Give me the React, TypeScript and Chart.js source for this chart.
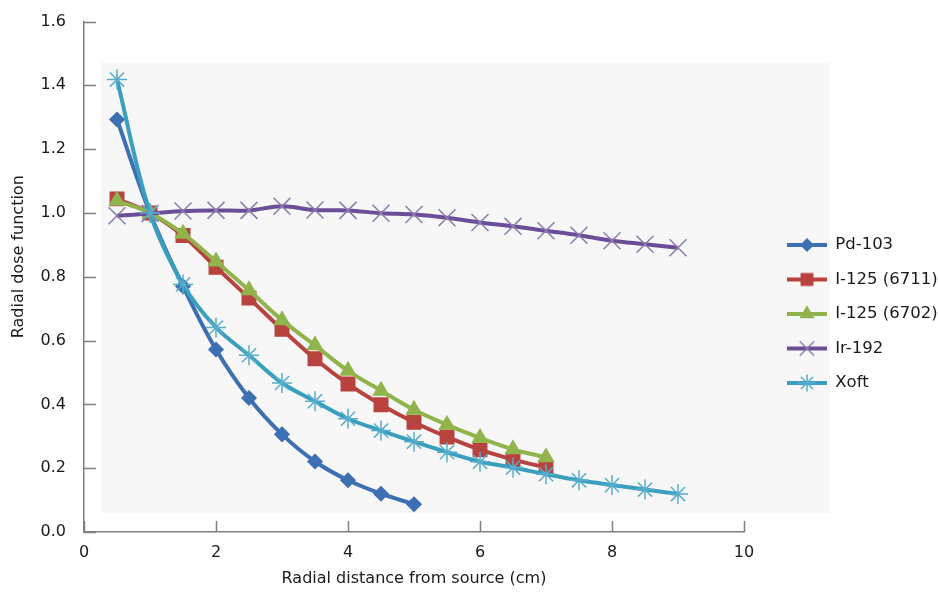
import { useEffect, useRef } from 'react';
import { Chart, registerables } from 'chart.js';
import { drawPoint } from 'chart.js/helpers';

Chart.register(...registerables);

// ---------- data ----------
const radialDistance = [0.5, 1, 1.5, 2, 2.5, 3, 3.5, 4, 4.5, 5, 5.5, 6, 6.5, 7, 7.5, 8, 8.5, 9];
const pd103 = [1.293, 1.0, 0.77, 0.572, 0.42, 0.306, 0.221, 0.162, 0.12, 0.087];
const i125_6711 = [1.044, 1.0, 0.929, 0.83, 0.733, 0.635, 0.543, 0.464, 0.399, 0.344, 0.298, 0.258, 0.227, 0.202];
const i125_6702 = [1.038, 1.0, 0.935, 0.848, 0.758, 0.664, 0.585, 0.505, 0.443, 0.383, 0.336, 0.295, 0.259, 0.234];
const ir192 = [0.991, 0.998, 1.006, 1.008, 1.008, 1.021, 1.009, 1.008, 0.999, 0.995, 0.985, 0.97, 0.958, 0.944, 0.93, 0.913, 0.902, 0.891];
const xoft = [1.418, 1.0, 0.776, 0.641, 0.554, 0.467, 0.41, 0.355, 0.318, 0.283, 0.25, 0.22, 0.202, 0.181, 0.162, 0.147, 0.133, 0.119];

const seriesNames = ['Pd-103', 'I-125 (6711)', 'I-125 (6702)', 'Ir-192', 'Xoft'];
const seriesValues = [pd103, i125_6711, i125_6702, ir192, xoft];
const xTickValues = [0, 2, 4, 6, 8, 10];
const yTickValues = [0, 0.2, 0.4, 0.6, 0.8, 1.0, 1.2, 1.4, 1.6];
const xTitle = 'Radial distance from source (cm)';
const yTitle = 'Radial dose function';

// ---------- styles ----------
const lineColors = ['#3d6fb3', '#b8423e', '#90b44b', '#6c4e98', '#3a9fbf'];
const markerBorders = ['#3d6fb3', '#b8423e', '#90b44b', '#8c7cae', '#56aecb'];
const markerStyles = ['rectRot', 'rect', 'triangle', 'crossRot', 'star'];
const markerRadii = [7, 9.5, 8.5, 12, 10];
const FONT = "'DejaVu Sans', Verdana, sans-serif";
const TEXT = '#1a1a1a';
const AXIS = '#7f7f7f';

function makeIcon(i: number): HTMLCanvasElement {
  const c = document.createElement('canvas');
  c.width = 40;
  c.height = 24;
  const ctx = c.getContext('2d')!;
  ctx.strokeStyle = lineColors[i];
  ctx.lineWidth = 4;
  ctx.beginPath();
  ctx.moveTo(0, 12);
  ctx.lineTo(40, 12);
  ctx.stroke();
  ctx.fillStyle = lineColors[i];
  ctx.strokeStyle = markerBorders[i];
  ctx.lineWidth = 1.5;
  drawPoint(ctx, { pointStyle: markerStyles[i], radius: markerRadii[i] * 0.85, rotation: 0, borderWidth: 1.5 } as any, 20, 12);
  return c;
}

const backgroundPlugin = {
  id: 'plotBackground',
  beforeDraw(chart: any) {
    const { ctx, chartArea } = chart;
    ctx.save();
    ctx.fillStyle = '#f7f7f7';
    const l = chartArea.left + 17;
    const t = chartArea.top + 41;
    const r = chartArea.right + 86;
    const b = chartArea.bottom - 19;
    ctx.fillRect(l, t, r - l, b - t);
    ctx.restore();
  },
};

const inwardTicksPlugin = {
  id: 'inwardTicks',
  beforeDatasetsDraw(chart: any) {
    const { ctx, chartArea, scales } = chart;
    ctx.save();
    ctx.strokeStyle = AXIS;
    ctx.lineWidth = 1.5;
    ctx.beginPath();
    for (const v of yTickValues) {
      const py = Math.round(scales.y.getPixelForValue(v)) + 0.5;
      ctx.moveTo(chartArea.left, py);
      ctx.lineTo(chartArea.left + 12, py);
    }
    for (const v of xTickValues) {
      const px = Math.round(scales.x.getPixelForValue(v)) + 0.5;
      ctx.moveTo(px, chartArea.bottom);
      ctx.lineTo(px, chartArea.bottom - 11);
    }
    ctx.stroke();
    ctx.restore();
  },
};

const yTitlePlugin = {
  id: 'yTitle',
  afterDraw(chart: any) {
    const { ctx, chartArea } = chart;
    ctx.save();
    ctx.translate(11, (chartArea.top + chartArea.bottom) / 2 - 20);
    ctx.rotate(-Math.PI / 2);
    ctx.font = `16px ${FONT}`;
    ctx.fillStyle = TEXT;
    ctx.textAlign = 'center';
    ctx.textBaseline = 'middle';
    ctx.fillText(yTitle, 0, 0);
    ctx.restore();
  },
};

export default function App() {
  const ref = useRef<HTMLCanvasElement>(null);

  useEffect(() => {
    if (!ref.current) return;
    const icons = seriesNames.map((_, i) => makeIcon(i));
    const datasets = seriesNames.map((name, i) => ({
      label: name,
      data: seriesValues[i].map((y, k) => ({ x: radialDistance[k], y })),
      borderColor: lineColors[i],
      backgroundColor: lineColors[i],
      borderWidth: 4,
      tension: 0.35,
      order: seriesNames.length - i,
      pointStyle: markerStyles[i],
      pointRadius: markerRadii[i],
      pointHoverRadius: markerRadii[i],
      pointBackgroundColor: lineColors[i],
      pointBorderColor: markerBorders[i],
      pointBorderWidth: 1.5,
    }));

    const chart = new Chart(ref.current, {
      type: 'line',
      data: { datasets },
      plugins: [backgroundPlugin, inwardTicksPlugin, yTitlePlugin],
      options: {
        animation: false,
        responsive: true,
        maintainAspectRatio: false,
        layout: { padding: { top: 12, left: 0, right: 0, bottom: 0 } },
        plugins: {
          tooltip: { enabled: false },
          legend: {
            position: 'right',
            maxWidth: 169,
            title: { display: true, text: ' ', font: { size: 5 }, padding: 4.5 },
            labels: {
              usePointStyle: true,
              pointStyleWidth: 40,
              padding: 18,
              color: TEXT,
              font: { family: FONT, size: 16.5 },
              generateLabels: () =>
                seriesNames.map((name, i) => ({
                  text: name,
                  pointStyle: icons[i],
                  fillStyle: lineColors[i],
                  strokeStyle: lineColors[i],
                  lineWidth: 0,
                  hidden: false,
                  datasetIndex: i,
                  fontColor: TEXT,
                })) as any,
            },
          },
        },
        scales: {
          x: {
            type: 'linear',
            min: 0,
            max: 10,
            afterBuildTicks: (s: any) => {
              s.ticks = xTickValues.map((v) => ({ value: v }));
            },
            afterFit: (s: any) => {
              s.height = 61;
            },
            grid: { display: false, drawTicks: false },
            border: { display: true, color: AXIS, width: 1.5 },
            ticks: {
              padding: 11,
              color: TEXT,
              font: { family: FONT, size: 16 },
              callback: (v: any) => String(v),
            },
            title: {
              display: true,
              text: xTitle,
              color: TEXT,
              font: { family: FONT, size: 16 },
              padding: { top: 0, bottom: 5 },
            },
          },
          y: {
            type: 'linear',
            min: 0,
            max: 1.6,
            afterBuildTicks: (s: any) => {
              s.ticks = yTickValues.map((v) => ({ value: v }));
            },
            afterFit: (s: any) => {
              s.width = 76;
              s.paddingTop = 10;
              s.paddingBottom = 10;
            },
            grid: { display: false, drawTicks: false },
            border: { display: true, color: AXIS, width: 1.5 },
            ticks: {
              padding: 18,
              color: TEXT,
              font: { family: FONT, size: 16 },
              callback: (v: any) => Number(v).toFixed(1),
            },
          },
          spacer: {
            type: 'linear',
            position: 'right',
            display: true,
            grid: { display: false, drawTicks: false },
            border: { display: false },
            ticks: { display: false },
            afterFit: (s: any) => {
              s.width = 25;
            },
          },
        },
      },
    } as any);
    return () => chart.destroy();
  }, []);

  return (
    <div style={{ position: 'absolute', left: 8, top: 8, width: 930, height: 585 }}>
      <canvas ref={ref} />
    </div>
  );
}
